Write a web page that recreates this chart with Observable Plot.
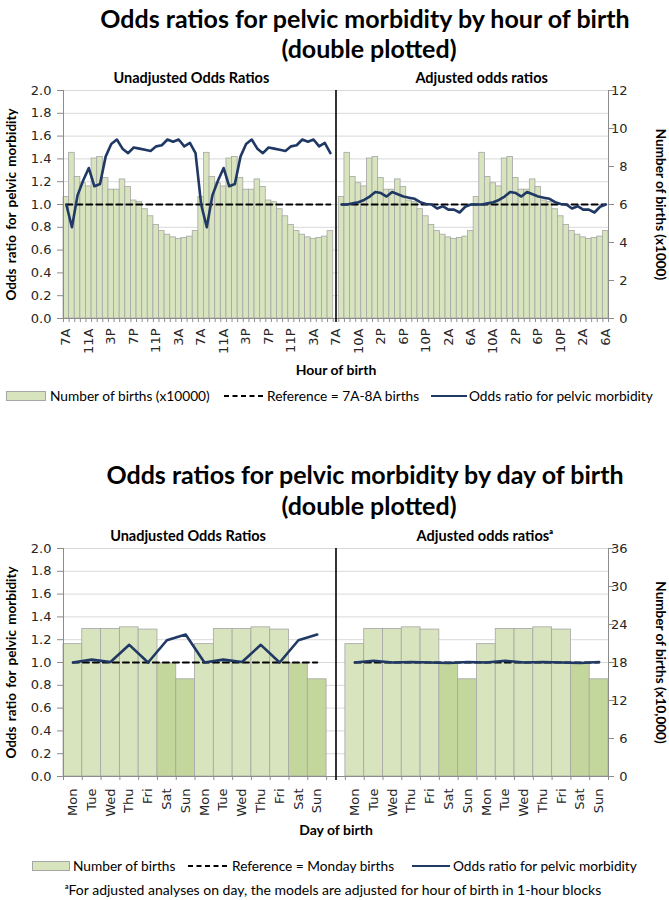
<!DOCTYPE html>
<html>
<head>
<meta charset="utf-8">
<script src="https://cdn.jsdelivr.net/npm/d3@7"></script>
<script src="https://cdn.jsdelivr.net/npm/@observablehq/plot@0.6"></script>
<style>
  body { margin: 0; background: #fff; }
  #page { position: relative; width: 669px; height: 900px; overflow: hidden; font-family: Lato, "Open Sans", sans-serif; color: #000; }
  .abs { position: absolute; white-space: nowrap; }
  .title { font-weight: 700; font-size: 25px; transform: translate(-50%, -50%); line-height: 1; }
  .leg { font-size: 13.7px; transform: translateY(-50%); line-height: 1; }
  .sw { position: absolute; background: #d7e4bd; border: 1px solid #a6a6a6; box-sizing: border-box; }
  .chart { position: absolute; left: 0; }
</style>
</head>
<body>
<div id="page"></div>
<script>
// ---------- Data ----------
const hours = ["7A","8A","9A","10A","11A","12P","1P","2P","3P","4P","5P","6P","7P","8P","9P","10P","11P","12A","1A","2A","3A","4A","5A","6A"];
const birthsByHour = [6.39, 8.72, 7.45, 7.12, 6.95, 8.42, 8.5, 7.39, 6.78, 6.78, 7.32, 6.92, 6.21, 6.12, 5.75, 5.38, 4.92, 4.6, 4.41, 4.27, 4.19, 4.24, 4.31, 4.6]; // x1000
const orHourUnadjusted = [1.00, 0.80, 1.08, 1.21, 1.32, 1.16, 1.18, 1.42, 1.53, 1.57, 1.49, 1.45, 1.50, 1.49, 1.48, 1.47, 1.51, 1.52, 1.57, 1.55, 1.57, 1.51, 1.54, 1.45];
const orHourAdjusted = [1.00, 1.00, 1.01, 1.02, 1.04, 1.07, 1.11, 1.10, 1.07, 1.11, 1.09, 1.07, 1.06, 1.05, 1.02, 1.005, 1.00, 0.965, 0.985, 0.955, 0.955, 0.93, 0.98, 1.00];
const hourTickLabels = ["7A","11A","3P","7P","11P","3A","7A","11A","3P","7P","11P","3A","7A","10A","2P","6P","10P","2A","6A","10A","2P","6P","10P","2A","6A"];

const days = ["Mon","Tue","Wed","Thu","Fri","Sat","Sun"];
const birthsByDay = [20.9, 23.3, 23.3, 23.55, 23.2, 17.85, 15.35]; // x10,000
const orDayUnadjusted = [1.00, 1.025, 1.005, 1.155, 1.00, 1.195, 1.245];
const orDayAdjusted = [1.00, 1.015, 1.00, 1.005, 1.00, 0.995, 1.005];
const weekendDays = ["Sat","Sun"];

const leftTicks = [0, 0.2, 0.4, 0.6, 0.8, 1.0, 1.2, 1.4, 1.6, 1.8, 2.0];
const rightTicksHour = [0, 2, 4, 6, 8, 10, 12];
const rightTicksDay = [0, 6, 12, 18, 24, 30, 36];

// ---------- Styles ----------
const BAR = "#d7e4bd", BAR_WE = "#c3d69b", BAR_STROKE = "#a6a6a6";
const LINE = "#1f3864", AXIS = "#8c8c8c", GRID = "#d9d9d9", TXT = "#262626";
const TF = "Lato, 'Open Sans', sans-serif";

function buildRows(cats, births, orL, orR) {
  const n = cats.length, rows = [];
  [orL, orR].forEach((ors, p) => {
    for (let r = 0; r < 2; r++) for (let k = 0; k < n; k++) {
      rows.push({slot: p * (2 * n + 1) + r * n + k, cat: cats[k], births: births[k], or: ors[k], panel: p});
    }
  });
  return rows;
}

function makeChart(o) {
  const n = o.cats.length;
  const nSlots = 4 * n + 1, gap = 2 * n;
  const rows = buildRows(o.cats, o.births, o.orL, o.orR);
  const ref = [];
  [0, 1].forEach(p => {
    const first = p * (2 * n + 1), last = first + 2 * n - 1;
    ref.push({x: first + 0.5, y: 1, panel: p}, {x: last + 0.5, y: 1, panel: p});
  });
  const k = o.rightMax / 2;
  const tickMap = new Map();
  o.tickSlots.forEach((s, i) => tickMap.set(s + 0.5, o.tickLabels[i]));
  const boundaries = d3.range(0, nSlots + 1);

  const svg = Plot.plot({
    width: 669, height: 320,
    marginLeft: 63, marginRight: 61, marginTop: 30, marginBottom: 62,
    style: {fontFamily: "'DejaVu Sans', sans-serif", fontSize: "13px", color: TXT, background: "transparent", overflow: "visible"},
    x: {type: "linear", domain: [0, nSlots]},
    y: {domain: [0, 2]},
    marks: [
      Plot.gridY(leftTicks.slice(1), {stroke: GRID, strokeOpacity: 1}),
      Plot.rectY(rows, {x1: "slot", x2: d => d.slot + 1, y1: 0, y2: d => d.births / k,
        fill: d => o.weekend.includes(d.cat) ? BAR_WE : BAR, stroke: BAR_STROKE, strokeWidth: 0.8}),
      Plot.ruleX([0, nSlots], {stroke: AXIS}),
      Plot.ruleY([0], {stroke: AXIS}),
      Plot.ruleX(boundaries, {x: d => d, y1: 0, y2: -0.035, stroke: AXIS}),
      Plot.ruleX([gap + 0.5], {y1: -0.035, y2: 2, stroke: "#000", strokeWidth: 1.6}),
      Plot.line(ref, {x: "x", y: "y", z: "panel", stroke: "#000", strokeWidth: 2, strokeDasharray: "6,4"}),
      Plot.line(rows, {x: d => d.slot + 0.5, y: "or", z: "panel", stroke: LINE, strokeWidth: 2.6, strokeLinejoin: "round"}),
      Plot.axisY({anchor: "left", ticks: leftTicks, tickFormat: d3.format(".1f"), tickSize: 6, tickPadding: 6, stroke: AXIS, label: null, fill: TXT}),
      Plot.axisY({anchor: "right", ticks: o.rightTicks.map(v => v / k), tickFormat: d => String(Math.round(d * k)),
        tickSize: 5, tickPadding: 14, textAnchor: "end", stroke: AXIS, label: null, fill: TXT}),
      Plot.axisX({ticks: [...tickMap.keys()], tickFormat: d => tickMap.get(d), tickSize: 0, tickPadding: o.labelPad,
        tickRotate: -90, label: null, fill: TXT}),
      Plot.text([{x: n, t: o.sub[0], dx: -7}, {x: 3 * n + 1, t: o.sub[1], dx: 8}],
        {x: "x", y: 2, text: "t", dx: -7, dy: -12, fontFamily: TF, fontWeight: "bold", fontSize: 14.5, fill: "#000"}),
      Plot.text([o.leftTitle], {frameAnchor: "left", dx: -52, rotate: -90, textAnchor: "middle", lineAnchor: "middle",
        fontFamily: TF, fontWeight: "bold", fontSize: 13.5, fill: "#000"}),
      Plot.text([o.rightTitle], {frameAnchor: "right", dx: 52, rotate: 90, textAnchor: "middle", lineAnchor: "middle",
        fontFamily: TF, fontWeight: "bold", fontSize: 13.5, fill: "#000"}),
      Plot.text([o.xTitle], {frameAnchor: "bottom", dy: o.xTitleDy, textAnchor: "middle", lineAnchor: "middle",
        fontFamily: TF, fontWeight: "bold", fontSize: 14, fill: "#000"})
    ]
  });
  // shift right-panel subtitle and widen word spacing of the left axis title
  svg.querySelectorAll("text").forEach(t => {
    if (t.textContent === o.sub[1]) t.setAttribute("transform", (t.getAttribute("transform") || "") + " translate(15,0)");
    if (t.textContent === o.leftTitle) t.setAttribute("word-spacing", "2");
  });
  return svg;
}

const page = document.getElementById("page");
function addDiv(cls, html, style) {
  const d = document.createElement("div");
  d.className = cls; d.innerHTML = html; Object.assign(d.style, style); page.appendChild(d); return d;
}
function lineSample(dashed, w) {
  return `<svg width="${w}" height="6" style="display:block"><line x1="0" y1="3" x2="${w}" y2="3" stroke="${dashed ? '#000' : LINE}" stroke-width="2" ${dashed ? 'stroke-dasharray="5,3.5"' : ''}/></svg>`;
}

// ---------- Top chart ----------
addDiv("abs title", "Odds ratios for pelvic morbidity by hour of birth", {left: "365px", top: "18px"});
addDiv("abs title", "(double plotted)", {left: "369px", top: "48px"});
const hourTickSlots = d3.range(0, 97, 4);
const hourChart = makeChart({
  cats: hours, births: birthsByHour, orL: orHourUnadjusted, orR: orHourAdjusted, weekend: [],
  rightMax: 12, rightTicks: rightTicksHour, tickSlots: hourTickSlots, tickLabels: hourTickLabels,
  sub: ["Unadjusted Odds Ratios", "Adjusted odds ratios"], labelPad: 10,
  leftTitle: "Odds ratio for pelvic morbidity", rightTitle: "Number of births (x1000)", xTitle: "Hour of birth", xTitleDy: 52
});
hourChart.classList.add("chart"); hourChart.style.top = "60px"; page.appendChild(hourChart);

addDiv("sw", "", {left: "6px", top: "391px", width: "40px", height: "10px"});
addDiv("abs leg", "Number of births (x10000)", {left: "50px", top: "396px"});
addDiv("abs", lineSample(true, 41), {left: "224px", top: "393px"});
addDiv("abs leg", "Reference = 7A-8A births", {left: "267px", top: "396px"});
addDiv("abs", lineSample(false, 36), {left: "431px", top: "393px"});
addDiv("abs leg", "Odds ratio for pelvic morbidity", {left: "469px", top: "396px"});

// ---------- Bottom chart ----------
addDiv("abs title", "Odds ratios for pelvic morbidity by day of birth", {left: "365px", top: "474px"});
addDiv("abs title", "(double plotted)", {left: "369px", top: "505px"});
const daySlots = d3.range(0, 29).filter(s => s !== 14);
const dayLabels = daySlots.map(s => days[(s < 14 ? s : s - 15) % 7]);
const dayChart = makeChart({
  cats: days, births: birthsByDay, orL: orDayUnadjusted, orR: orDayAdjusted, weekend: weekendDays,
  rightMax: 36, rightTicks: rightTicksDay, tickSlots: daySlots, tickLabels: dayLabels,
  sub: ["Unadjusted Odds Ratios", "Adjusted odds ratios\u1d43"], labelPad: 12,
  leftTitle: "Odds ratio for pelvic morbidity", rightTitle: "Number of births (x10,000)", xTitle: "Day of birth", xTitleDy: 54
});
dayChart.classList.add("chart"); dayChart.style.top = "518px"; page.appendChild(dayChart);

addDiv("sw", "", {left: "32px", top: "861px", width: "38px", height: "10px"});
addDiv("abs leg", "Number of births", {left: "73px", top: "866px"});
addDiv("abs", lineSample(true, 40), {left: "188px", top: "863px"});
addDiv("abs leg", "Reference = Monday births", {left: "232px", top: "866px"});
addDiv("abs", lineSample(false, 38), {left: "412px", top: "863px"});
addDiv("abs leg", "Odds ratio for pelvic morbidity", {left: "453px", top: "866px"});
addDiv("abs leg", "\u1d43For adjusted analyses on day, the models are adjusted for hour of birth in 1-hour blocks",
  {left: "333px", top: "890px", transform: "translate(-50%,-50%)", fontSize: "14px"});
</script>
</body>
</html>
